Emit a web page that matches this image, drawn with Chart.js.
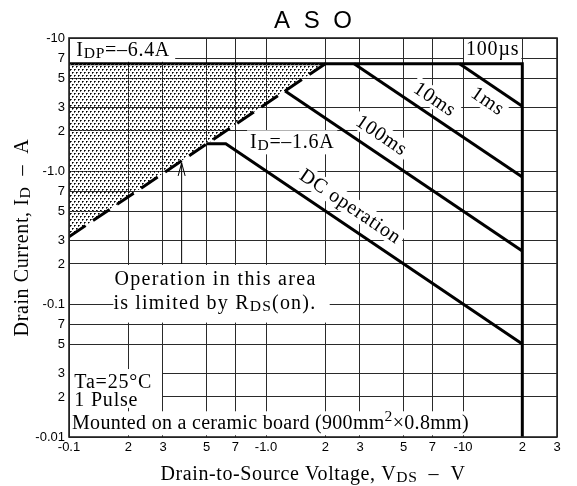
<!DOCTYPE html>
<html>
<head>
<meta charset="utf-8">
<script src="https://cdn.jsdelivr.net/npm/chart.js@4.4.1/dist/chart.umd.min.js"></script>
<style>
	html, body { margin: 0; padding: 0; background: #fff; }
</style>
</head>
<body>
<canvas id="asoChart" width="577" height="486"></canvas>
<script>
// Ejes (log-log)
const xTicks = [0.1, 0.2, 0.3, 0.5, 0.7, 1, 2, 3, 5, 7, 10, 20, 30];
const xTickLabels = ['-0.1', '2', '3', '5', '7', '-1.0', '2', '3', '5', '7', '-10', '2', '3'];
const yTicks = [0.01, 0.02, 0.03, 0.05, 0.07, 0.1, 0.2, 0.3, 0.5, 0.7, 1, 2, 3, 5, 7, 10];
const yTickLabels = ['-0.01', '2', '3', '5', '7', '-0.1', '2', '3', '5', '7', '-1.0', '2', '3', '5', '7', '-10'];

// Limites (|VDS| en V, |ID| en A)
const rdsOnV = [0.1, 2.0];
const rdsOnI = [0.32, 6.4];
const pulseV = [0.1, 20, 20];
const pulseI = [6.4, 6.4, 0.01];
const ms1V = [9.6, 20];
const ms1I = [6.4, 3.07];
const ms10V = [2.8, 20];
const ms10I = [6.4, 0.9];
const ms100V = [1.25, 20];
const ms100I = [4.0, 0.25];
const dcV = [0.5, 0.625, 20];
const dcI = [1.6, 1.6, 0.05];

const SERIF = '"Liberation Serif", "Times New Roman", serif';
const SANS = '"Liberation Sans", Arial, sans-serif';

const toPoints = (xs, ys) => xs.map((x, i) => ({ x: x, y: ys[i] }));

function dotPattern() {
	const c = document.createElement('canvas');
	c.width = 4;
	c.height = 6;
	const g = c.getContext('2d');
	g.fillStyle = '#000';
	g.fillRect(0, 0, 1, 1);
	g.fillRect(2, 3, 1, 1);
	g.fillStyle = '#555';
	g.fillRect(1, 0, 1, 1);
	g.fillRect(0, 1, 1, 1);
	g.fillRect(3, 3, 1, 1);
	g.fillRect(2, 4, 1, 1);
	return g.createPattern(c, 'repeat');
}

function limitLine(label, xs, ys) {
	return {
		label: label,
		data: toPoints(xs, ys),
		showLine: true,
		borderColor: '#000',
		borderWidth: 3,
		borderJoinStyle: 'miter',
		pointRadius: 0,
		fill: false,
	};
}

// texto con subindices
function setSerif(g, size) {
	g.font = size + 'px ' + SERIF;
}
function partsWidth(g, parts, size) {
	let w = 0;
	for (const [t, kind] of parts) {
		setSerif(g, kind ? size * 0.78 : size);
		w += g.measureText(t).width;
	}
	return w;
}
function drawParts(g, parts, x, y, size) {
	for (const [t, kind] of parts) {
		setSerif(g, kind ? size * 0.78 : size);
		let dy = 0;
		if (kind === 'sub') dy = 2;
		if (kind === 'sup') dy = -8;
		g.fillText(t, x, y + dy);
		x += g.measureText(t).width;
	}
	return x;
}

const flatLabels = [
	{ parts: [['I'], ['DP', 'sub'], ['=–6.4A']], x: 0.109, y: 7.32, ls: 0.7 },
	{ parts: [['I'], ['D', 'sub'], ['=–1.6A']], x: 0.83, y: 1.48, ls: 0.7, bg: true },
	{ parts: [['Operation in this area']], x: 0.17, y: 0.139, ls: 1.35 },
	{ parts: [['is limited by R'], ['DS', 'sub'], ['(on).']], x: 0.168, y: 0.0917, ls: 1.2 },
	{ parts: [['Ta=25°C']], x: 0.1064, y: 0.0232, ls: 0.8 },
	{ parts: [['1 Pulse']], x: 0.1064, y: 0.0172, ls: 0.8 },
	{ parts: [['Mounted on a ceramic board (900mm'], ['2', 'sup'], ['×0.8mm)']], x: 0.1036, y: 0.01143, ls: 0.3, bg: true },
];

const slopeLabels = [
	{ text: '1ms', x: 13.4, y: 3.37 },
	{ text: '10ms', x: 7.22, y: 3.48 },
	{ text: '100ms', x: 3.87, y: 1.865 },
	{ text: 'DC operation', x: 2.69, y: 0.545 },
];

// cajas blancas que tapan la reticula
const whiteBoxes = [
	{ x: [0.1, 0.35], y: [6.4, 10] },
	{ x: [10, 20], y: [6.4, 10] },
	{ x: [0.166, 2.13], y: [0.07, 0.2] },
	{ x: [0.1, 0.3], y: [0.016, 0.033] },
];

const asoDecor = {
	id: 'asoDecor',
	beforeDatasetsDraw(chart) {
		const g = chart.ctx;
		const sx = chart.scales.x;
		const sy = chart.scales.y;
		const area = chart.chartArea;
		g.save();
		g.fillStyle = '#fff';
		whiteBoxes.forEach((b) => {
			const x0 = sx.getPixelForValue(b.x[0]) + 1;
			const x1 = sx.getPixelForValue(b.x[1]) - 1;
			const y0 = sy.getPixelForValue(b.y[1]) + 1;
			const y1 = sy.getPixelForValue(b.y[0]) - 2;
			g.fillRect(x0, y0, x1 - x0, y1 - y0);
		});
		flatLabels.forEach((l) => {
			if (!l.bg) return;
			g.letterSpacing = l.ls + 'px';
			const x = sx.getPixelForValue(l.x);
			const y = sy.getPixelForValue(l.y);
			const w = partsWidth(g, l.parts, 20);
			const bottom = Math.min(y + 6, area.bottom - 1);
			g.fillRect(Math.max(x - 3, area.left + 1), y - 18, w + 6, bottom - (y - 18));
		});
		const ang = Math.atan2(
			sy.getPixelForValue(0.1) - sy.getPixelForValue(1),
			sx.getPixelForValue(10) - sx.getPixelForValue(1)
		);
		g.letterSpacing = '0.8px';
		setSerif(g, 20);
		slopeLabels.forEach((l) => {
			const w = g.measureText(l.text).width;
			g.save();
			g.translate(sx.getPixelForValue(l.x), sy.getPixelForValue(l.y));
			g.rotate(ang);
			g.fillRect(-w / 2 - 3, -10, w + 6, 20);
			g.restore();
		});
		g.restore();
	},
	afterDatasetsDraw(chart) {
		const g = chart.ctx;
		const sx = chart.scales.x;
		const sy = chart.scales.y;
		const area = chart.chartArea;
		g.save();
		g.fillStyle = '#000';
		g.strokeStyle = '#000';
		g.textBaseline = 'alphabetic';
		g.textAlign = 'left';
		flatLabels.forEach((l) => {
			g.letterSpacing = l.ls + 'px';
			drawParts(g, l.parts, sx.getPixelForValue(l.x), sy.getPixelForValue(l.y), 20);
		});

		// 100us en su caja
		g.letterSpacing = '0.8px';
		setSerif(g, 20);
		g.textAlign = 'center';
		const bx = (sx.getPixelForValue(10) + sx.getPixelForValue(20)) / 2;
		g.fillText('100µs', bx, sy.getPixelForValue(7.45));

		// etiquetas inclinadas
		const ang = Math.atan2(
			sy.getPixelForValue(0.1) - sy.getPixelForValue(1),
			sx.getPixelForValue(10) - sx.getPixelForValue(1)
		);
		g.textBaseline = 'middle';
		slopeLabels.forEach((l) => {
			g.save();
			g.translate(sx.getPixelForValue(l.x), sy.getPixelForValue(l.y));
			g.rotate(ang);
			g.fillText(l.text, 0, 1);
			g.restore();
		});

		// flecha
		const ax = sx.getPixelForValue(0.373);
		const tip = sy.getPixelForValue(1.15);
		g.lineWidth = 1;
		g.beginPath();
		g.moveTo(ax, sy.getPixelForValue(0.2));
		g.lineTo(ax, tip);
		g.moveTo(ax - 3.5, tip + 13);
		g.lineTo(ax, tip);
		g.lineTo(ax + 3.5, tip + 13);
		g.stroke();

		// marco
		g.lineWidth = 1.6;
		g.strokeStyle = '#222';
		g.strokeRect(area.left, area.top, area.right - area.left, area.bottom - area.top);
		g.restore();
	},
	afterDraw(chart) {
		const g = chart.ctx;
		const area = chart.chartArea;
		const cx = (area.left + area.right) / 2;
		const cy = (area.top + area.bottom) / 2;
		g.save();
		g.fillStyle = '#000';
		g.textBaseline = 'alphabetic';
		g.textAlign = 'left';

		// titulo
		g.font = '24px ' + SANS;
		g.letterSpacing = '3.5px';
		const tw = g.measureText('A S O').width - 3.5;
		g.fillText('A S O', cx - tw / 2, 28);

		// eje x
		g.letterSpacing = '0.6px';
		const xParts = [['Drain-to-Source Voltage, V'], ['DS', 'sub'], ['  –  V']];
		const xw = partsWidth(g, xParts, 20);
		drawParts(g, xParts, cx - xw / 2, 480, 20);

		// eje y
		const yParts = [['Drain Current, I'], ['D', 'sub'], ['  –  A']];
		const yw = partsWidth(g, yParts, 20);
		g.translate(28, cy);
		g.rotate(-Math.PI / 2);
		drawParts(g, yParts, -yw / 2, 0, 20);
		g.restore();
	},
};

const tickFont = { family: SANS, size: 13 };

new Chart(document.getElementById('asoChart'), {
	type: 'scatter',
	data: {
		datasets: [
			Object.assign(limitLine('RDS(on)', rdsOnV, rdsOnI), {
				borderDash: [20, 9],
				fill: { value: 6.4 },
				backgroundColor: dotPattern(),
			}),
			limitLine('100µs', pulseV, pulseI),
			limitLine('1ms', ms1V, ms1I),
			limitLine('10ms', ms10V, ms10I),
			limitLine('100ms', ms100V, ms100I),
			limitLine('DC', dcV, dcI),
		],
	},
	options: {
		responsive: false,
		animation: false,
		devicePixelRatio: 1,
		layout: { padding: { left: 0, right: 20, top: 38, bottom: 0 } },
		plugins: {
			legend: { display: false },
			tooltip: { enabled: false },
		},
		scales: {
			x: {
				type: 'logarithmic',
				min: 0.1,
				max: 30,
				afterBuildTicks: (s) => {
					s.ticks = xTicks.map((v) => ({ value: v }));
				},
				afterFit: (s) => {
					s.height = 49;
				},
				ticks: {
					autoSkip: false,
					maxRotation: 0,
					padding: 3,
					color: '#000',
					font: tickFont,
					callback: (v, i) => xTickLabels[i],
				},
				grid: { color: '#2a2a2a', lineWidth: 1, drawTicks: false },
				border: { display: false },
			},
			y: {
				type: 'logarithmic',
				min: 0.01,
				max: 10,
				afterBuildTicks: (s) => {
					s.ticks = yTicks.map((v) => ({ value: v }));
				},
				afterFit: (s) => {
					s.width = 69;
				},
				ticks: {
					autoSkip: false,
					padding: 4,
					color: '#000',
					font: tickFont,
					callback: (v, i) => yTickLabels[i],
				},
				grid: { color: '#2a2a2a', lineWidth: 1, drawTicks: false },
				border: { display: false },
			},
		},
	},
	plugins: [asoDecor],
});
</script>
</body>
</html>
